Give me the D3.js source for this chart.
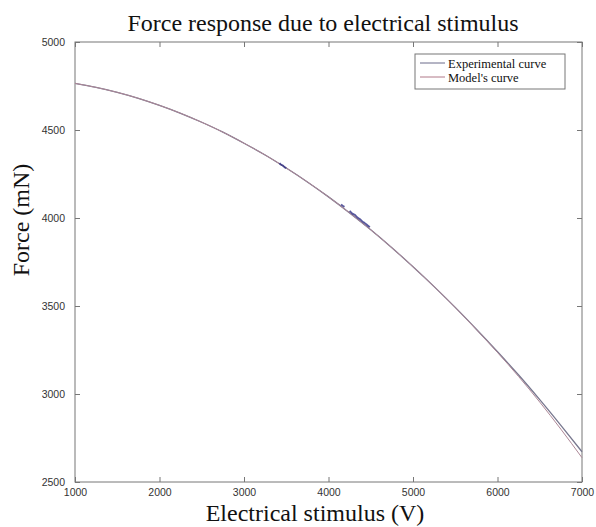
<!DOCTYPE html>
<html>
<head>
<meta charset="utf-8">
<script src="https://cdn.jsdelivr.net/npm/d3@7"></script>
<style>
  body { margin: 0; background: #fff; }
  text { font-family: "Liberation Sans", Arial, sans-serif; }
  .serif { font-family: "Liberation Serif", "Times New Roman", serif; fill: #111; }
  .tick-label { font-size: 10.5px; fill: #333; }
</style>
</head>
<body>
<div id="chart"></div>
<script>
// values
var voltage = [1000, 1250, 1500, 1750, 2000, 2250, 2500, 2750, 3000, 3250, 3500, 3750, 4000,
               4250, 4500, 4750, 5000, 5250, 5500, 5750, 6000, 6250, 6500, 6750, 7000];
var experimental = [4765, 4742, 4714, 4680, 4640, 4595, 4544, 4488, 4425, 4358, 4284, 4205, 4120,
                    4029, 3933, 3831, 3723, 3610, 3492, 3368, 3240, 3108, 2968, 2822, 2672];
var model = [4765, 4742, 4714, 4680, 4640, 4595, 4544, 4488, 4425, 4358, 4284, 4205, 4120,
             4029, 3933, 3831, 3723, 3610, 3491, 3366, 3236, 3099, 2954, 2800, 2638];
// darker noisy pieces of the measured curve
var noisyV1 = [3420, 3440, 3460, 3480, 3500];
var noisyF1 = [4312, 4302, 4298, 4288, 4283];
var noisyV2 = [4150, 4170, 4190];
var noisyF2 = [4078, 4069, 4064];
var noisyV3 = [4250, 4280, 4310, 4340, 4370, 4400, 4430, 4460, 4490];
var noisyF3 = [4040, 4026, 4018, 4004, 3994, 3981, 3971, 3959, 3948];

var xTicks = [1000, 2000, 3000, 4000, 5000, 6000, 7000];
var yTicks = [2500, 3000, 3500, 4000, 4500, 5000];
var legendNames = ["Experimental curve", "Model's curve"];

var width = 596, height = 527;
var margin = {left: 75, right: 14, top: 42, bottom: 45};
var expColor = "#77778e";
var modelColor = "#ad8797";
var noiseColor = "#2e2e84";

var svg = d3.select("#chart").append("svg")
  .attr("width", width)
  .attr("height", height);

var xScale = d3.scaleLinear().domain([1000, 7000]).range([margin.left, width - margin.right]);
var yScale = d3.scaleLinear().domain([2500, 5000]).range([height - margin.bottom, margin.top]);

/* frame */
svg.append("rect")
  .attr("x", xScale(1000)).attr("y", yScale(5000))
  .attr("width", xScale(7000) - xScale(1000))
  .attr("height", yScale(2500) - yScale(5000))
  .attr("fill", "none").attr("stroke", "#777").attr("stroke-width", 1);

/* axes with inward ticks */
var fmt = d3.format("d");
var xAxisB = d3.axisBottom(xScale).tickValues(xTicks).tickSizeInner(-5).tickSizeOuter(0).tickPadding(7).tickFormat(fmt);
var xAxisT = d3.axisTop(xScale).tickValues(xTicks).tickSizeInner(-5).tickSizeOuter(0).tickFormat("");
var yAxisL = d3.axisLeft(yScale).tickValues(yTicks).tickSizeInner(-5).tickSizeOuter(0).tickPadding(10).tickFormat(fmt);
var yAxisR = d3.axisRight(yScale).tickValues(yTicks).tickSizeInner(-5).tickSizeOuter(0).tickFormat("");

function styleAxis(g) {
  g.select(".domain").remove();
  g.selectAll(".tick line").attr("stroke", "#777");
  g.selectAll(".tick text").attr("class", "tick-label").attr("fill", "#333");
}

svg.append("g").attr("transform", `translate(0, ${yScale(2500)})`).call(xAxisB).call(styleAxis);
svg.append("g").attr("transform", `translate(0, ${yScale(5000)})`).call(xAxisT).call(styleAxis);
svg.append("g").attr("transform", `translate(${xScale(1000)}, 0)`).call(yAxisL).call(styleAxis);
svg.append("g").attr("transform", `translate(${xScale(7000)}, 0)`).call(yAxisR).call(styleAxis);

/* lines */
var line = d3.line()
  .x(d => xScale(d[0]))
  .y(d => yScale(d[1]))
  .curve(d3.curveMonotoneX);

svg.append("path")
  .datum(d3.zip(voltage, experimental))
  .attr("d", line)
  .attr("fill", "none").attr("stroke", expColor).attr("stroke-width", 1.3);

svg.append("path")
  .datum(d3.zip(voltage, model))
  .attr("d", line)
  .attr("fill", "none").attr("stroke", modelColor).attr("stroke-width", 1);

[[noisyV1, noisyF1], [noisyV2, noisyF2], [noisyV3, noisyF3]].forEach(function(p) {
  svg.append("path")
    .datum(d3.zip(p[0], p[1]))
    .attr("d", line)
    .attr("fill", "none").attr("stroke", noiseColor).attr("stroke-width", 1.8).attr("opacity", 0.8);
});

/* legend */
var legend = svg.append("g");
legend.append("rect")
  .attr("x", 415).attr("y", 54).attr("width", 150).attr("height", 35)
  .attr("fill", "#fff").attr("stroke", "#777");
legendNames.forEach(function(name, i) {
  var y = 63 + i * 14;
  legend.append("line")
    .attr("x1", 420).attr("x2", 445).attr("y1", y).attr("y2", y)
    .attr("stroke", i == 0 ? "#6a6a8a" : "#b07888").attr("stroke-width", 1);
  legend.append("text")
    .attr("class", "serif")
    .attr("x", 448).attr("y", y + 4.5)
    .attr("font-size", "12.5px")
    .text(name);
});

/* titles */
svg.append("text").attr("class", "serif")
  .attr("x", 323).attr("y", 31)
  .attr("text-anchor", "middle").attr("font-size", "24px")
  .text("Force response due to electrical stimulus");

svg.append("text").attr("class", "serif")
  .attr("x", 315).attr("y", 521)
  .attr("text-anchor", "middle").attr("font-size", "24px")
  .text("Electrical stimulus (V)");

svg.append("text").attr("class", "serif")
  .attr("transform", "translate(29, 220) rotate(-90)")
  .attr("text-anchor", "middle").attr("font-size", "24px")
  .text("Force (mN)");
</script>
</body>
</html>
